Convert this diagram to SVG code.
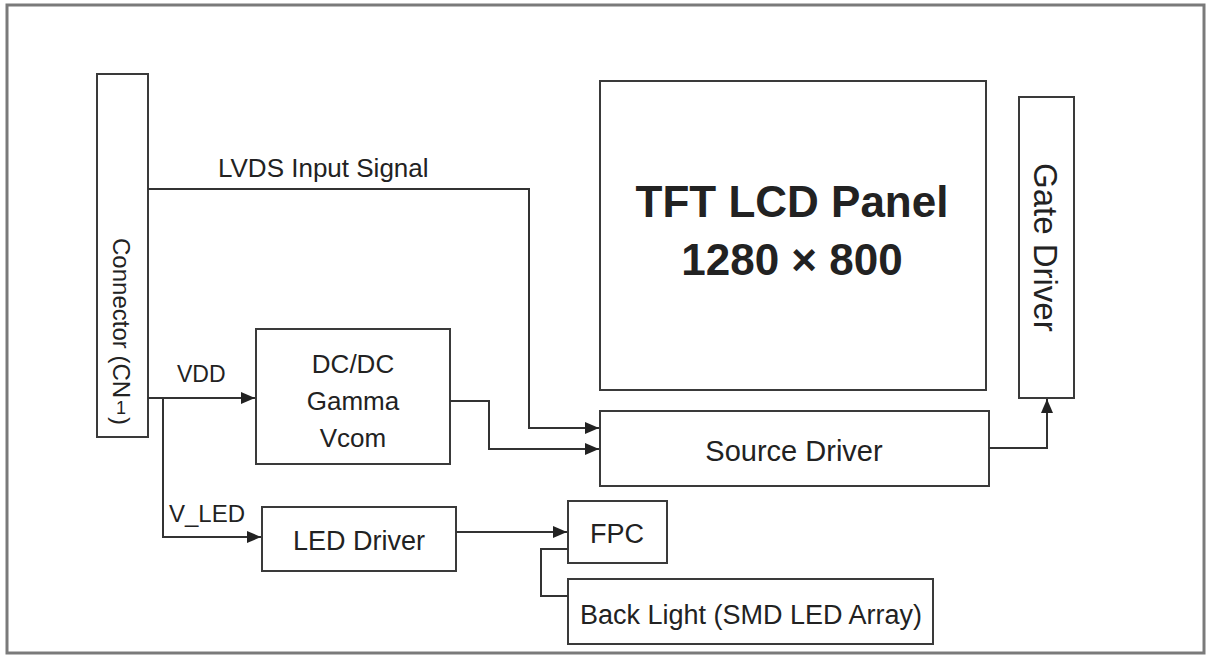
<svg xmlns="http://www.w3.org/2000/svg" width="1206" height="656" viewBox="0 0 1206 656">
<style>
.box{fill:#fff;stroke:#3a3a3a;stroke-width:2}
.ln{fill:none;stroke:#333;stroke-width:2}
.t{font-family:"Liberation Sans",Arial,sans-serif;fill:#222}
</style>
<defs>
<marker id="ah" markerWidth="14" markerHeight="12" refX="14" refY="6" orient="auto" markerUnits="userSpaceOnUse">
<path d="M0,0 L14,6 L0,12 Z" fill="#222"/>
</marker>
</defs>
<rect x="0" y="0" width="1206" height="656" fill="#fff"/>
<rect x="7" y="5" width="1197" height="648" fill="none" stroke="#7a7a7a" stroke-width="3"/>

<g id="connector">
<rect class="box" x="97" y="74" width="51" height="363"/>
<text class="t" font-size="24" transform="translate(113,238) rotate(90)">Connector (CN</text>
<text class="t" font-size="18" x="121" y="414" text-anchor="middle" fill="#335">1</text>
<text class="t" font-size="24" transform="translate(113,417) rotate(90)">)</text>
</g>

<g id="panel">
<rect class="box" x="600" y="81" width="386" height="309"/>
<text class="t" font-size="44" font-weight="bold" x="792" y="217" text-anchor="middle" fill="#111">TFT LCD Panel</text>
<text class="t" font-size="44" font-weight="bold" x="792" y="275" text-anchor="middle" fill="#111">1280 × 800</text>
</g>

<g id="gate-driver">
<rect class="box" x="1019" y="97" width="55" height="301"/>
<text class="t" font-size="33" transform="translate(1034,163) rotate(90)">Gate Driver</text>
</g>

<g id="source-driver">
<rect class="box" x="600" y="411" width="389" height="75"/>
<text class="t" font-size="29" x="794" y="461" text-anchor="middle">Source Driver</text>
</g>

<g id="dcdc">
<rect class="box" x="256" y="329" width="194" height="135"/>
<text class="t" font-size="26" x="353" y="373" text-anchor="middle">DC/DC</text>
<text class="t" font-size="26" x="353" y="410" text-anchor="middle">Gamma</text>
<text class="t" font-size="26" x="353" y="447" text-anchor="middle">Vcom</text>
</g>

<g id="led-driver">
<rect class="box" x="262" y="507" width="194" height="64"/>
<text class="t" font-size="27" x="359" y="550" text-anchor="middle">LED Driver</text>
</g>

<g id="fpc">
<rect class="box" x="568" y="501" width="99" height="62"/>
<text class="t" font-size="27" x="617" y="543" text-anchor="middle">FPC</text>
</g>

<g id="backlight">
<rect class="box" x="568" y="579" width="365" height="65"/>
<text class="t" font-size="27" x="751" y="624" text-anchor="middle">Back Light (SMD LED Array)</text>
</g>

<g id="connectors">
<path class="ln" d="M148,189 H529 V428 H599" marker-end="url(#ah)"/>
<path class="ln" d="M450,401 H489 V449 H599" marker-end="url(#ah)"/>
<path class="ln" d="M148,398 H255" marker-end="url(#ah)"/>
<path class="ln" d="M163,398 V537 H261" marker-end="url(#ah)"/>
<path class="ln" d="M456,532 H567" marker-end="url(#ah)"/>
<path class="ln" d="M568,549 H541 V596 H568"/>
<path class="ln" d="M989,448 H1047 V399" marker-end="url(#ah)"/>
<text class="t" font-size="26" x="218" y="177">LVDS Input Signal</text>
<text class="t" font-size="23" x="177" y="382">VDD</text>
<text class="t" font-size="24" x="169" y="522">V_LED</text>
</g>
</svg>
